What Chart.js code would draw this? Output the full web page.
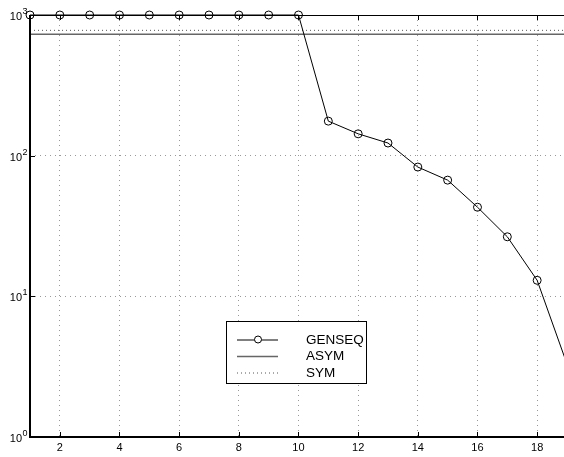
<!DOCTYPE html>
<html>
<head>
<meta charset="utf-8">
<script src="https://cdn.jsdelivr.net/npm/chart.js@4"></script>
<style>
  html, body { margin: 0; padding: 0; background: #fff; }
  canvas { display: block; }
</style>
</head>
<body>
<canvas id="chart" width="564" height="457"></canvas>
<script>
// data
const xValues = [1, 2, 3, 4, 5, 6, 7, 8, 9, 10, 11, 12, 13, 14, 15, 16, 17, 18, 19];
const gensValues = [1000, 1000, 1000, 1000, 1000, 1000, 1000, 1000, 1000, 1000, 176, 143, 123, 83, 67, 43, 26.5, 13, 3.3];
const asymValue = 730;
const symValue = 778;
const xTicks = [2, 4, 6, 8, 10, 12, 14, 16, 18];
const yTicks = [1, 10, 100, 1000];
const seriesNames = ['GENSEQ', 'ASYM', 'SYM'];

const FONT = '"Liberation Sans", Arial, Helvetica, sans-serif';

const genseq = xValues.map((x, i) => ({ x, y: gensValues[i] }));
const asym = [{ x: xValues[0], y: asymValue }, { x: xValues[xValues.length - 1], y: asymValue }];
const sym = [{ x: xValues[0], y: symValue }, { x: xValues[xValues.length - 1], y: symValue }];

// axes box, inner ticks, 10^n labels and the legend box
const decorations = {
  id: 'decorations',
  afterDraw(chart) {
    const ctx = chart.ctx;
    const a = chart.chartArea;
    const xs = chart.scales.x;
    const ys = chart.scales.y;
    ctx.save();

    ctx.strokeStyle = '#000';
    ctx.lineWidth = 1;
    ctx.beginPath();
    xTicks.forEach(v => {
      const px = Math.round(xs.getPixelForValue(v)) + 0.5;
      ctx.moveTo(px, a.bottom); ctx.lineTo(px, a.bottom - 5);
      ctx.moveTo(px, a.top); ctx.lineTo(px, a.top + 5);
    });
    yTicks.forEach(v => {
      const py = Math.round(ys.getPixelForValue(v)) + 0.5;
      ctx.moveTo(a.left, py); ctx.lineTo(a.left + 5, py);
    });
    ctx.moveTo(a.left, a.top + 0.5); ctx.lineTo(a.right, a.top + 0.5);
    ctx.stroke();

    ctx.lineWidth = 2;
    ctx.beginPath();
    ctx.moveTo(a.left, a.top); ctx.lineTo(a.left, a.bottom);
    ctx.lineTo(a.right, a.bottom);
    ctx.stroke();

    // y labels as 10 with a raised exponent
    ctx.fillStyle = '#000';
    ctx.textBaseline = 'alphabetic';
    yTicks.forEach(v => {
      const py = ys.getPixelForValue(v);
      const exp = String(Math.round(Math.log10(v)));
      ctx.font = '11px ' + FONT;
      ctx.textAlign = 'right';
      ctx.fillText('10', 22, py + 5);
      ctx.font = '9px ' + FONT;
      ctx.textAlign = 'left';
      ctx.fillText(exp, 22.5, py - 1);
    });

    // legend
    const box = { left: 226, top: 321, right: 366, bottom: 383 };
    ctx.fillStyle = '#fff';
    ctx.fillRect(box.left, box.top, box.right - box.left, box.bottom - box.top);
    ctx.strokeStyle = '#000';
    ctx.lineWidth = 1;
    ctx.strokeRect(box.left + 0.5, box.top + 0.5, box.right - box.left, box.bottom - box.top);
    const rows = [340, 356.5, 373];
    chart.data.datasets.forEach((ds, i) => {
      const y = rows[i];
      ctx.strokeStyle = ds.borderColor;
      ctx.lineWidth = ds.borderWidth;
      ctx.setLineDash(ds.borderDash || []);
      ctx.beginPath();
      ctx.moveTo(237, y); ctx.lineTo(278, y);
      ctx.stroke();
      ctx.setLineDash([]);
      if (i === 0) {
        ctx.fillStyle = '#fff';
        ctx.beginPath();
        ctx.arc(258, y - 0.5, 3.5, 0, Math.PI * 2);
        ctx.fill();
        ctx.lineWidth = 1;
        ctx.strokeStyle = '#000';
        ctx.stroke();
      }
      ctx.fillStyle = '#000';
      ctx.font = '13.5px ' + FONT;
      ctx.textAlign = 'left';
      ctx.textBaseline = 'middle';
      ctx.fillText(ds.label, 306, y);
    });
    ctx.restore();
  }
};

new Chart(document.getElementById('chart'), {
  type: 'line',
  data: {
    datasets: [
      {
        label: seriesNames[0],
        data: genseq,
        borderColor: '#000',
        borderWidth: 1,
        // the x=19 marker sits past the cropped right edge
        pointRadius: c => (c.parsed && c.parsed.x > 18.9 ? 0 : 4),
        pointBorderWidth: 1,
        pointBorderColor: '#000',
        pointBackgroundColor: 'rgba(0,0,0,0)',
        tension: 0,
        clip: { left: 6, top: 6, right: 0, bottom: 0 },
        order: 0
      },
      {
        label: seriesNames[1],
        data: asym,
        borderColor: '#666',
        borderWidth: 1.6,
        pointRadius: 0,
        order: 1
      },
      {
        label: seriesNames[2],
        data: sym,
        borderColor: '#555',
        borderWidth: 1,
        borderDash: [1, 3],
        pointRadius: 0,
        order: 2
      }
    ]
  },
  options: {
    responsive: false,
    animation: false,
    devicePixelRatio: 1,
    layout: { autoPadding: false, padding: { top: 15, left: 0, right: 0, bottom: 0 } },
    plugins: { legend: { display: false }, tooltip: { enabled: false } },
    scales: {
      x: {
        type: 'linear',
        min: 1,
        max: 18.9,
        afterBuildTicks: s => { s.ticks = xTicks.map(v => ({ value: v })); },
        afterFit: s => { s.height = 20; s.paddingLeft = 0; s.paddingRight = 0; },
        grid: { color: '#999', lineWidth: 1, drawTicks: false },
        border: { display: false, dash: [1, 4] },
        ticks: { color: '#000', font: { family: FONT, size: 11 }, padding: 4, maxRotation: 0 }
      },
      y: {
        type: 'logarithmic',
        min: 1,
        max: 1000,
        afterBuildTicks: s => { s.ticks = yTicks.map(v => ({ value: v })); },
        afterFit: s => { s.width = 30; },
        grid: { color: '#999', lineWidth: 1, drawTicks: false },
        border: { display: false, dash: [1, 4] },
        ticks: { display: false }
      }
    }
  },
  plugins: [decorations]
});
</script>
</body>
</html>
